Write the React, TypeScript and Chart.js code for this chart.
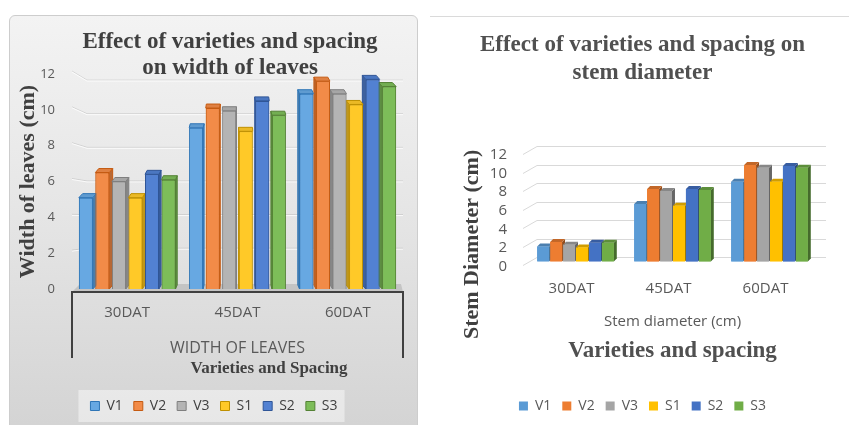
import React, { useEffect, useRef } from "react";
import { Chart, registerables } from "chart.js";
Chart.register(...registerables);

// ---------- data ----------
const categories = ["30DAT", "45DAT", "60DAT"];
const seriesNames = ["V1", "V2", "V3", "S1", "S2", "S3"];
const yTickValues = [0, 2, 4, 6, 8, 10, 12];

// Width of leaves (cm)
const leafV1 = [5.1, 9.0, 10.9];
const leafV2 = [6.5, 10.1, 11.6];
const leafV3 = [6.0, 9.95, 10.9];
const leafS1 = [5.1, 8.8, 10.3];
const leafS2 = [6.4, 10.5, 11.7];
const leafS3 = [6.1, 9.7, 11.3];

// Stem diameter (cm)
const stemV1 = [1.6, 6.2, 8.6];
const stemV2 = [2.1, 7.8, 10.4];
const stemV3 = [1.8, 7.6, 10.1];
const stemS1 = [1.5, 6.0, 8.6];
const stemS2 = [2.0, 7.8, 10.3];
const stemS3 = [2.0, 7.7, 10.1];

const leafSeries = [leafV1, leafV2, leafV3, leafS1, leafS2, leafS3];
const stemSeries = [stemV1, stemV2, stemV3, stemS1, stemS2, stemS3];

// ---------- styles ----------
const SANS = "'Open Sans', 'Liberation Sans', sans-serif";
const SERIF = "'Liberation Serif', 'Times New Roman', serif";
const baseColors = ["#5B9BD5", "#ED7D31", "#A5A5A5", "#FFC000", "#4472C4", "#70AD47"];
const leafFill = ["#67a8e2", "#f28b48", "#b4b4b4", "#ffc928", "#5281d2", "#7dbd59"];
const leafBorder = ["#2e75b6", "#c55a11", "#7f7f7f", "#bf9000", "#2f5597", "#548235"];

function shade(hex: string, f: number) {
  const n = parseInt(hex.slice(1), 16);
  const c = (v: number) => Math.max(0, Math.min(255, Math.round(v * f)));
  return `rgb(${c((n >> 16) & 255)},${c((n >> 8) & 255)},${c(n & 255)})`;
}

function bars3d(dy: number, dxFn: (x: number, chart: any) => number, topF: number, sideF: number, stroke: boolean) {
  return {
    id: "bars3d",
    afterDatasetsDraw(chart: any) {
      const ctx = chart.ctx;
      const items: any[] = [];
      chart.data.datasets.forEach((ds: any, i: number) => {
        const meta = chart.getDatasetMeta(i);
        meta.data.forEach((el: any) => items.push({ el, ds, dx: dxFn(el.x, chart) }));
      });
      const pos = items.filter((it) => it.dx >= 0).sort((a, b) => a.el.x - b.el.x);
      const neg = items.filter((it) => it.dx < 0).sort((a, b) => b.el.x - a.el.x);
      const draw = (it: any) => {
        const { x, y, base, width } = it.el.getProps(["x", "y", "base", "width"], true);
        const L = x - width / 2, R = x + width / 2, dx = it.dx;
        const fill = it.ds.backgroundColor;
        ctx.save();
        ctx.lineWidth = 1;
        ctx.strokeStyle = it.ds.borderColor;
        const E = dx >= 0 ? R : L;
        ctx.fillStyle = shade(fill, sideF);
        ctx.beginPath();
        ctx.moveTo(E, y); ctx.lineTo(E + dx, y - dy); ctx.lineTo(E + dx, base - dy); ctx.lineTo(E, base);
        ctx.closePath(); ctx.fill(); if (stroke) ctx.stroke();
        ctx.fillStyle = shade(fill, topF);
        ctx.beginPath();
        ctx.moveTo(L, y); ctx.lineTo(L + dx, y - dy); ctx.lineTo(R + dx, y - dy); ctx.lineTo(R, y);
        ctx.closePath(); ctx.fill(); if (stroke) ctx.stroke();
        ctx.restore();
        it.el.draw(ctx);
      };
      pos.forEach(draw);
      neg.forEach(draw);
    },
  };
}

type TextItem = { lines: string[]; font: string; color: string; lh: number; x: (c: any) => number; y: (c: any) => number; rot?: number };
function textPlugin(items: TextItem[]) {
  return {
    id: "texts",
    afterDraw(chart: any) {
      const ctx = chart.ctx;
      items.forEach((t) => {
        ctx.save();
        ctx.font = t.font;
        ctx.fillStyle = t.color;
        ctx.textAlign = "center";
        ctx.textBaseline = "middle";
        ctx.translate(t.x(chart), t.y(chart));
        if (t.rot) ctx.rotate(t.rot);
        t.lines.forEach((s, i) => ctx.fillText(s, 0, i * t.lh));
        ctx.restore();
      });
    },
  };
}

const yTicksHook = (s: any) => { s.ticks = yTickValues.map((v) => ({ value: v })); };

// ---------- left chart ----------
function leftConfig(): any {
  return {
    type: "bar",
    data: {
      labels: categories,
      datasets: seriesNames.map((n, i) => ({
        label: n, data: leafSeries[i], backgroundColor: leafFill[i], borderColor: leafBorder[i],
        borderWidth: 1, categoryPercentage: 0.9, barPercentage: 0.84,
      })),
    },
    options: {
      responsive: false, animation: false, devicePixelRatio: 1,
      layout: { padding: { top: 58, bottom: 2, left: 15, right: 15 } },
      plugins: {
        legend: { position: "bottom", labels: { boxWidth: 9, boxHeight: 9, padding: 11, font: { family: SANS, size: 14 }, color: "#404040" } },
        title: { display: false },
        tooltip: { enabled: false },
      },
      scales: {
        x: {
          grid: { display: false, drawTicks: false }, border: { display: false },
          ticks: { padding: 15, font: { family: SANS, size: 15 }, color: "#595959" },
          title: { display: true, text: "WIDTH OF LEAVES", font: { family: SANS, size: 16 }, color: "#595959", padding: { top: 0, bottom: 30 } },
          afterFit: (s: any) => { s.height = 99; },
        },
        y: {
          min: 0, max: 12, afterBuildTicks: yTicksHook,
          grid: { display: false, drawTicks: false }, border: { display: false },
          ticks: { padding: 17, autoSkip: false, font: { family: SANS, size: 13 }, color: "#595959" },
          title: { display: true, text: "Width of leaves (cm)", font: { family: SERIF, size: 22, weight: "bold" }, color: "#404040", padding: { top: -10, bottom: 0 } },
          afterFit: (s: any) => { s.width = 47; },
        },
      },
    },
    plugins: [
      {
        id: "legendBox",
        beforeDraw(chart: any) {
          const hb = chart.legend && chart.legend.legendHitBoxes;
          if (!hb || !hb.length) return;
          const l = Math.min(...hb.map((h: any) => h.left)) - 12;
          const r = Math.max(...hb.map((h: any) => h.left + h.width)) + 7;
          const cy = hb[0].top + hb[0].height / 2;
          const ctx = chart.ctx;
          ctx.save();
          ctx.fillStyle = "rgba(255,255,255,0.45)";
          ctx.fillRect(l, cy - 16, r - l, 32);
          ctx.restore();
        },
      },
      {
        id: "grid3dLeft",
        beforeDatasetsDraw(chart: any) {
          const ys = chart.scales.y;
          const { left, right, bottom } = chart.chartArea;
          const ctx = chart.ctx;
          ctx.save();
          // floor
          ctx.fillStyle = "#c4c4c4";
          ctx.beginPath();
          ctx.moveTo(left, bottom + 3);
          ctx.lineTo(left + 8, bottom - 5);
          ctx.lineTo(right - 2, bottom - 5);
          ctx.lineTo(right, bottom + 3);
          ctx.closePath();
          ctx.fill();
          ys.ticks.forEach((t: any) => {
            if (t.value === 0) return;
            const p = ys.getPixelForValue(t.value);
            const off = (t.value - 6.5) * 1.1;
            const path = (d: number) => {
              ctx.beginPath();
              ctx.moveTo(left, p - 3 + d);
              ctx.lineTo(left + 15, p + off + d);
              ctx.lineTo(right, p + off + d);
              ctx.stroke();
            };
            ctx.lineWidth = 1;
            ctx.strokeStyle = "rgba(0,0,0,0.1)";
            path(0);
            ctx.strokeStyle = "rgba(255,255,255,0.8)";
            path(1);
          });
          ctx.restore();
        },
      },
      bars3d(4, (x: number, chart: any) => ((chart.chartArea.left + chart.chartArea.right) / 2 - x) * 0.025, 0.92, 0.75, true),
      {
        id: "axisBox",
        afterDraw(chart: any) {
          const { left, right, bottom } = chart.chartArea;
          const ctx = chart.ctx;
          ctx.save();
          ctx.strokeStyle = "#404040";
          ctx.lineWidth = 2;
          ctx.beginPath();
          ctx.moveTo(left, bottom + 69);
          ctx.lineTo(left, bottom + 3);
          ctx.lineTo(right, bottom + 3);
          ctx.lineTo(right, bottom + 69);
          ctx.stroke();
          ctx.restore();
        },
      },
      textPlugin([
        {
          lines: ["Effect of varieties and spacing", "on width of leaves"],
          font: `bold 23px ${SERIF}`, color: "#404040", lh: 26,
          x: (c) => (c.chartArea.left + c.chartArea.right) / 2 - 7.5, y: () => 26,
        },
        {
          lines: ["Varieties and Spacing"],
          font: `bold 17px ${SERIF}`, color: "#404040", lh: 20,
          x: (c) => (c.chartArea.left + c.chartArea.right) / 2 + 31.5, y: (c) => c.chartArea.bottom + 80,
        },
      ]),
    ],
  };
}

// ---------- right chart ----------
function rightConfig(): any {
  return {
    type: "bar",
    data: {
      labels: categories,
      datasets: seriesNames.map((n, i) => ({
        label: n, data: stemSeries[i], backgroundColor: baseColors[i], borderColor: baseColors[i],
        borderWidth: 0, categoryPercentage: 0.8, barPercentage: 0.92,
      })),
    },
    options: {
      responsive: false, animation: false, devicePixelRatio: 1,
      layout: { padding: { top: 0, bottom: 2, left: 37, right: 31 } },
      plugins: {
        legend: { position: "bottom", labels: { boxWidth: 9, boxHeight: 9, padding: 11, font: { family: SANS, size: 14 }, color: "#595959" } },
        title: {
          display: true, text: ["Effect of varieties and spacing on", "stem diameter"],
          font: { family: SERIF, size: 23, weight: "bold", lineHeight: 1.22 }, color: "#505050",
          padding: { top: 15, bottom: 63 },
        },
        subtitle: {
          display: true, position: "bottom", fullSize: false, weight: 500, text: "Varieties and spacing",
          font: { family: SERIF, size: 23, weight: "bold", lineHeight: 1.2 }, color: "#505050",
          padding: { top: 0, bottom: 23 },
        },
        tooltip: { enabled: false },
      },
      scales: {
        x: {
          grid: { display: false, drawTicks: false }, border: { display: false },
          ticks: { padding: 18, labelOffset: -4, font: { family: SANS, size: 15 }, color: "#595959" },
          title: { display: true, text: "Stem diameter (cm)", font: { family: SANS, size: 15 }, color: "#595959", padding: { top: 0, bottom: 7 } },
          afterFit: (s: any) => { s.height = 76; },
        },
        y: {
          min: 0, max: 12, afterBuildTicks: yTicksHook,
          grid: { display: false, drawTicks: false }, border: { display: false },
          ticks: { padding: 20, labelOffset: 5, autoSkip: false, font: { family: SANS, size: 15 }, color: "#595959" },
          afterFit: (s: any) => { s.width = 60; },
        },
      },
    },
    plugins: [
      {
        id: "grid3dRight",
        beforeDatasetsDraw(chart: any) {
          const ys = chart.scales.y;
          const { left, right } = chart.chartArea;
          const ctx = chart.ctx;
          ctx.save();
          ctx.strokeStyle = "#d9d9d9";
          ctx.lineWidth = 1;
          ys.ticks.forEach((t: any) => {
            const p = Math.round(ys.getPixelForValue(t.value)) + 0.5;
            ctx.beginPath();
            ctx.moveTo(left - 4, p + 4);
            ctx.lineTo(left + 10, p - 4);
            ctx.lineTo(right + 8, p - 4);
            ctx.stroke();
          });
          ctx.restore();
        },
      },
      bars3d(3, () => 3, 0.82, 0.62, false),
      textPlugin([
        {
          lines: ["Stem Diameter (cm)"],
          font: `bold 22px ${SERIF}`, color: "#404040", lh: 26, rot: -Math.PI / 2,
          x: (c) => c.chartArea.left - 55, y: (c) => c.chartArea.bottom - 17,
        },
      ]),
    ],
  };
}

function ChartCanvas({ config, left, top, width, height }: { config: () => any; left: number; top: number; width: number; height: number }) {
  const ref = useRef<HTMLCanvasElement>(null);
  useEffect(() => {
    const chart = new Chart(ref.current as HTMLCanvasElement, config());
    return () => chart.destroy();
  }, []);
  return (
    <canvas
      ref={ref}
      width={width}
      height={height}
      style={{ position: "absolute", left, top, width, height }}
    />
  );
}

export default function App() {
  return (
    <div style={{ position: "fixed", left: 0, top: 0, width: 849, height: 425, background: "#fff", overflow: "hidden" }}>
      <div
        style={{
          position: "absolute", left: 9, top: 15, width: 407, height: 420,
          border: "1px solid #cdcdcd", borderRadius: 6,
          background: "linear-gradient(180deg, #f3f3f3 0%, #e6e6e6 45%, #d3d3d3 100%)",
        }}
      />
      <div style={{ position: "absolute", left: 430, top: 16, width: 419, height: 1, background: "#dadada" }} />
      <ChartCanvas config={leftConfig} left={10} top={16} width={408} height={409} />
      <ChartCanvas config={rightConfig} left={430} top={16} width={419} height={409} />
    </div>
  );
}
